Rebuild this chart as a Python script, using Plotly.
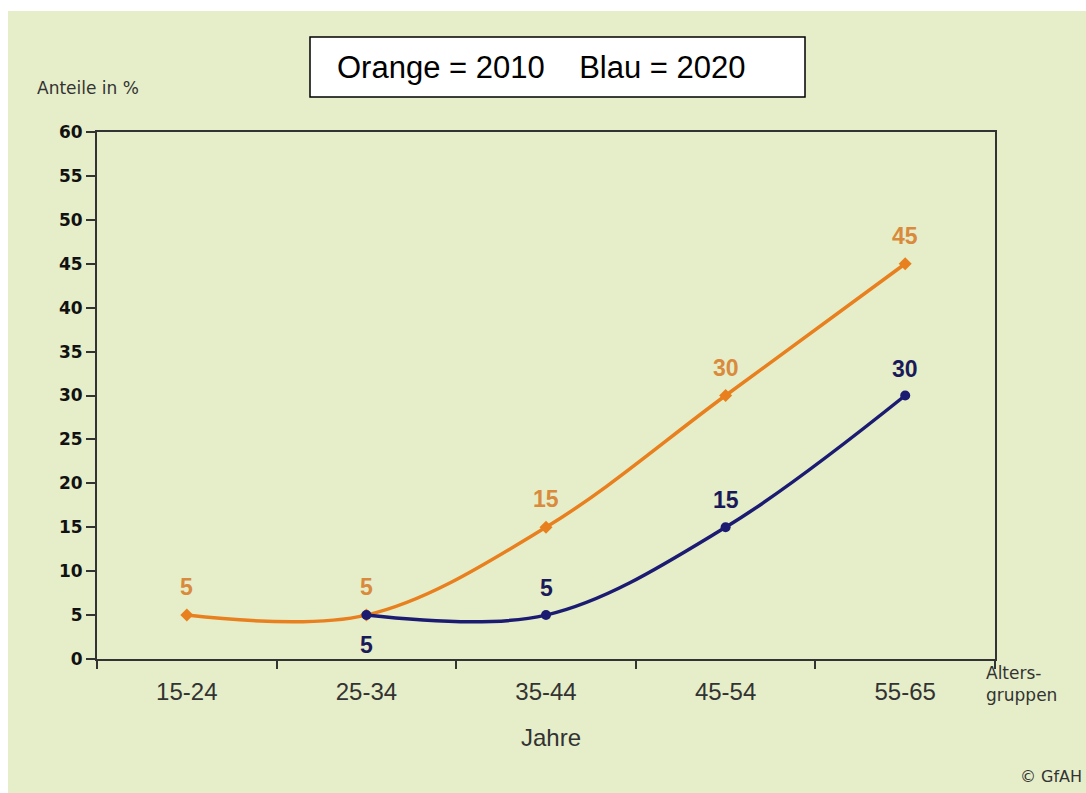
import plotly.graph_objects as go

# Altersgruppen und Anteile in %
age_groups = ["15-24", "25-34", "35-44", "45-54", "55-65"]
share_2010 = [5, 5, 15, 30, 45]
share_2020 = [None, 5, 5, 15, 30]

BG = "#E5EEC8"
ORANGE = "#E8801F"
ORANGE_TXT = "#D98A3C"
NAVY = "#1B1B72"
NAVY_TXT = "#1A1A5A"

fig = go.Figure()

fig.add_trace(go.Scatter(
    x=age_groups, y=share_2010, mode="lines+markers",
    line=dict(color=ORANGE, width=3.5, shape="spline", smoothing=1),
    marker=dict(symbol="diamond", size=10, color=ORANGE),
    showlegend=False, cliponaxis=False,
))

fig.add_trace(go.Scatter(
    x=age_groups, y=share_2020, mode="lines+markers",
    line=dict(color=NAVY, width=3.5, shape="spline", smoothing=1),
    marker=dict(symbol="circle", size=10, color=NAVY),
    showlegend=False, cliponaxis=False,
))

fig.update_xaxes(
    type="category", range=[-0.5, 4.5], tickson="boundaries",
    ticks="outside", ticklen=8, tickwidth=2, tickcolor="#333",
    showline=True, linecolor="#333", linewidth=2, mirror=True,
    showgrid=False, zeroline=False, ticklabelstandoff=10,
    tickfont=dict(family="Liberation Sans", size=24, color="#333"),
)
fig.update_yaxes(
    range=[0, 60], dtick=5, ticks="outside", ticklen=9, tickwidth=2, tickcolor="#333",
    showline=True, linecolor="#333", linewidth=2, mirror=True,
    showgrid=False, zeroline=False,
    tickfont=dict(family="DejaVu Sans", size=17, color="#111", weight="bold"),
)

W, H = 1086, 793
L, R, T, B = 97, 995, 132, 659
pw, ph = R - L, B - T


def px(x):
    return (x - L) / pw


def py(y):
    return (B - y) / ph


fig.add_shape(type="rect", xref="paper", yref="paper",
              x0=px(310), x1=px(805), y0=py(97), y1=py(37),
              fillcolor="white", line=dict(color="black", width=1.5), layer="above")
# white outer edges of the page
fig.add_shape(type="rect", xref="paper", yref="paper",
              x0=px(0), x1=px(W), y0=py(11), y1=py(0),
              fillcolor="white", line=dict(width=0), layer="below")
fig.add_shape(type="rect", xref="paper", yref="paper",
              x0=px(0), x1=px(8), y0=py(H), y1=py(0),
              fillcolor="white", line=dict(width=0), layer="below")

annotations = [
    dict(text="Orange = 2010    Blau = 2020", x=px(541), y=py(67),
         xanchor="center", yanchor="middle",
         font=dict(family="Liberation Sans", size=31, color="black")),
    dict(text="Anteile in %", x=px(35), y=py(88), xanchor="left", yanchor="middle",
         font=dict(family="DejaVu Sans", size=17, color="#333")),
    dict(text="Jahre", x=px(551), y=py(737), xanchor="center", yanchor="middle",
         font=dict(family="Liberation Sans", size=24, color="#333")),
    dict(text="Alters-<br>gruppen", x=px(984), y=py(684), xanchor="left", yanchor="middle",
         align="left", font=dict(family="DejaVu Sans", size=17, color="#333")),
    dict(text="© GfAH", x=px(1084), y=py(776), xanchor="right", yanchor="middle",
         font=dict(family="DejaVu Sans", size=16, color="#333")),
]
for a in annotations:
    a.update(xref="paper", yref="paper", showarrow=False)

# value labels next to each point
for cat, v in zip(age_groups, share_2010):
    annotations.append(dict(
        x=cat, y=v, xref="x", yref="y", text=str(v), showarrow=False,
        yshift=28, font=dict(family="Liberation Sans", size=23, color=ORANGE_TXT, weight="bold"),
    ))
for i, (cat, v) in enumerate(zip(age_groups, share_2020)):
    if v is None:
        continue
    shift = -30 if i == 1 else 27
    annotations.append(dict(
        x=cat, y=v, xref="x", yref="y", text=str(v), showarrow=False,
        yshift=shift, font=dict(family="Liberation Sans", size=23, color=NAVY_TXT, weight="bold"),
    ))

fig.update_layout(annotations=annotations)

fig.update_layout(
    width=W, height=H,
    margin=dict(l=L, r=W - R, t=T, b=H - B),
    paper_bgcolor=BG, plot_bgcolor=BG,
)

fig.write_html("out.html")
